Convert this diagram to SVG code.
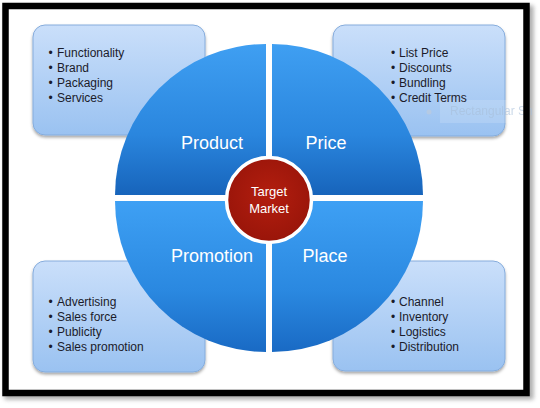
<svg xmlns="http://www.w3.org/2000/svg" width="540" height="408" viewBox="0 0 540 408">
<defs>
<linearGradient id="gTop" x1="0" y1="0" x2="0" y2="1">
<stop offset="0" stop-color="#3f9ff2"/>
<stop offset="0.6" stop-color="#2a86de"/>
<stop offset="1" stop-color="#1764bb"/>
</linearGradient>
<linearGradient id="gBot" x1="0" y1="0" x2="0" y2="1">
<stop offset="0" stop-color="#3ea0f4"/>
<stop offset="0.6" stop-color="#2a88e0"/>
<stop offset="1" stop-color="#196ac4"/>
</linearGradient>
<linearGradient id="gBox" x1="0" y1="0" x2="0" y2="1">
<stop offset="0" stop-color="#cadffa"/>
<stop offset="1" stop-color="#9ac2f1"/>
</linearGradient>
<radialGradient id="gRed" cx="0.5" cy="0.45" r="0.6">
<stop offset="0" stop-color="#b31e0f"/>
<stop offset="1" stop-color="#971409"/>
</radialGradient>
<filter id="sh" x="-10%" y="-10%" width="130%" height="130%">
<feDropShadow dx="0" dy="2" stdDeviation="1.5" flood-color="#000" flood-opacity="0.35"/>
</filter>
<filter id="fsh" x="-5%" y="-5%" width="110%" height="110%">
<feGaussianBlur stdDeviation="2"/>
</filter>
</defs>
<style>
.box{fill:url(#gBox);stroke:#85acdc;stroke-width:1;filter:url(#sh)}
.li{font-family:"Liberation Sans",Arial,sans-serif;font-size:12px;fill:#1b1b2a}
.bu{font-family:"Liberation Sans",Arial,sans-serif;font-size:12px;fill:#1b1b2a;text-anchor:middle}
.ql{font-family:"Liberation Sans",Arial,sans-serif;font-size:18px;fill:#ffffff;text-anchor:middle}
.tm{font-family:"Liberation Sans",Arial,sans-serif;font-size:13px;fill:#ffffff;text-anchor:middle}
</style>
<rect x="0" y="0" width="540" height="408" fill="#ffffff"/>
<rect x="8" y="9" width="522" height="387" fill="none" stroke="#8a8a8a" stroke-width="7" filter="url(#fsh)" opacity="0.7"/>
<rect x="8" y="8" width="516" height="382" fill="#ffffff"/>

<g id="product-box">
<rect class="box" x="33" y="25" width="172" height="110" rx="12"/>
<text class="bu" x="50.5" y="57">•</text><text class="li" x="57" y="57">Functionality</text>
<text class="bu" x="50.5" y="72">•</text><text class="li" x="57" y="72">Brand</text>
<text class="bu" x="50.5" y="87">•</text><text class="li" x="57" y="87">Packaging</text>
<text class="bu" x="50.5" y="102">•</text><text class="li" x="57" y="102">Services</text>
</g>
<g id="price-box">
<rect class="box" x="333" y="25" width="172" height="111" rx="12"/>
<rect x="440" y="100" width="90" height="23" fill="#ffffff" opacity="0.15"/>
<circle cx="429" cy="112" r="2.5" fill="#b9cbe0" opacity="0.8"/>
<text x="450" y="115" font-family="Liberation Sans, Arial, sans-serif" font-size="12" fill="#a8bfda" opacity="0.6">Rectangular Sn</text>
<text class="bu" x="393" y="57">•</text><text class="li" x="399" y="57">List Price</text>
<text class="bu" x="393" y="72">•</text><text class="li" x="399" y="72">Discounts</text>
<text class="bu" x="393" y="87">•</text><text class="li" x="399" y="87">Bundling</text>
<text class="bu" x="393" y="102">•</text><text class="li" x="399" y="102">Credit Terms</text>
</g>
<g id="promotion-box">
<rect class="box" x="33" y="261" width="172" height="111" rx="12"/>
<text class="bu" x="50.5" y="306">•</text><text class="li" x="57" y="306">Advertising</text>
<text class="bu" x="50.5" y="321">•</text><text class="li" x="57" y="321">Sales force</text>
<text class="bu" x="50.5" y="336">•</text><text class="li" x="57" y="336">Publicity</text>
<text class="bu" x="50.5" y="351">•</text><text class="li" x="57" y="351">Sales promotion</text>
</g>
<g id="place-box">
<rect class="box" x="333" y="261" width="172" height="110" rx="12"/>
<text class="bu" x="393" y="306">•</text><text class="li" x="399" y="306">Channel</text>
<text class="bu" x="393" y="321">•</text><text class="li" x="399" y="321">Inventory</text>
<text class="bu" x="393" y="336">•</text><text class="li" x="399" y="336">Logistics</text>
<text class="bu" x="393" y="351">•</text><text class="li" x="399" y="351">Distribution</text>
</g>

<g id="connectors"></g>

<g id="product">
<path d="M266,195 L115,195 A151,151 0 0 1 266,44 Z" fill="url(#gTop)"/>
<text class="ql" x="212" y="149">Product</text>
</g>
<g id="price">
<path d="M272,195 L272,44 A151,151 0 0 1 423,195 Z" fill="url(#gTop)"/>
<text class="ql" x="326" y="149">Price</text>
</g>
<g id="promotion">
<path d="M266,201 L266,352 A151,151 0 0 1 115,201 Z" fill="url(#gBot)"/>
<text class="ql" x="212" y="262">Promotion</text>
</g>
<g id="place">
<path d="M272,201 L423,201 A151,151 0 0 1 272,352 Z" fill="url(#gBot)"/>
<text class="ql" x="325" y="262">Place</text>
</g>
<g id="target-market">
<circle cx="269" cy="200" r="42.5" fill="url(#gRed)" stroke="#ffffff" stroke-width="3.5"/>
<text class="tm" x="269" y="196">Target</text>
<text class="tm" x="269" y="213">Market</text>
</g>

<rect x="5.5" y="6" width="521" height="387" fill="none" stroke="#000000" stroke-width="6.5"/>
</svg>
